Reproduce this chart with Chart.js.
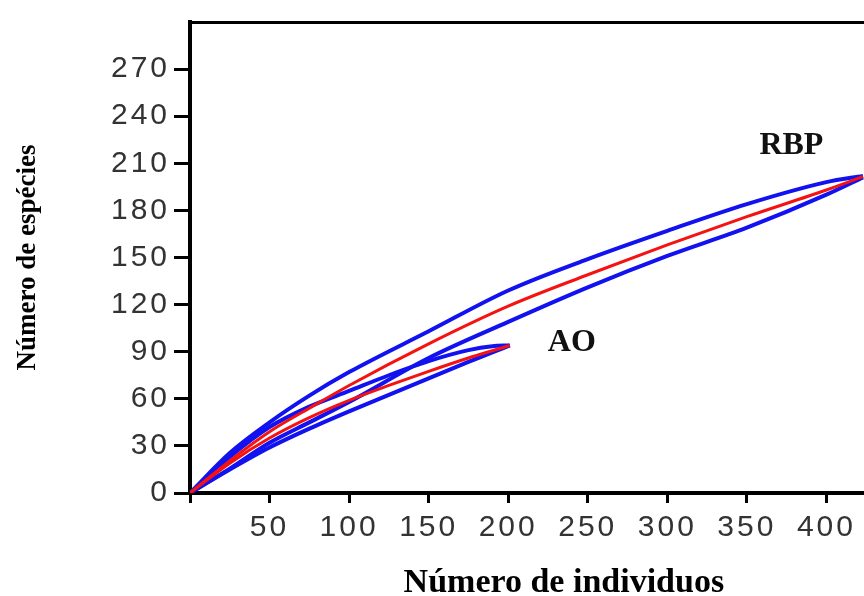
<!DOCTYPE html>
<html>
<head>
<meta charset="utf-8">
<script src="https://cdn.jsdelivr.net/npm/chart.js@4.4.1/dist/chart.umd.min.js"></script>
<style>
  html, body { margin: 0; padding: 0; overflow: hidden; background: #fff; }
  #wrap { width: 938px; height: 596px; }
</style>
</head>
<body>
<div id="wrap"><canvas id="rarefaction" width="938" height="596"></canvas></div>
<script>
// rarefaction curves: individuals (x) vs species (y), mean + upper/lower bound
const rbpInd   = [0, 25, 50, 75, 100, 150, 200, 250, 300, 350, 400, 423];
const rbpMean  = [0, 20.5, 39, 54, 68.5, 95, 119, 139, 158, 176, 193, 201.5];
const rbpUpper = [0, 25.5, 45, 62, 77, 103, 129, 149, 167, 184, 198, 202];
const rbpLower = [0, 15.5, 32, 45, 58, 86, 109, 131, 151, 169, 190, 201];

const aoInd   = [0, 25, 50, 75, 100, 125, 150, 175, 190, 201];
const aoMean  = [0, 19, 35, 48, 59, 68.5, 77.5, 86, 90.6, 94];
const aoUpper = [0, 23, 42, 55, 65, 75, 84, 91, 93.5, 94];
const aoLower = [0, 15, 29, 41, 52, 62.5, 73, 83.5, 89.5, 94];

// curve names, placed in data units
const curveLabels = ["RBP", "AO"];
const curveLabelInd = [378, 240];
const curveLabelSpp = [221, 96];

const BLUE = "rgb(18,18,240)";
const RED = "rgb(245,18,18)";

const pts = (xs, ys) => xs.map((x, i) => ({ x: x, y: ys[i] }));

// tick labels in the original are spaced out a bit
const baseDrawLabels = Chart.Scale.prototype.drawLabels;
Chart.Scale.prototype.drawLabels = function (area) {
  this.ctx.save();
  this.ctx.letterSpacing = "3px";
  baseDrawLabels.call(this, area);
  this.ctx.restore();
};

const curveNames = {
  id: "curveNames",
  afterDatasetsDraw(chart) {
    const { ctx, scales: { x, y } } = chart;
    ctx.save();
    ctx.font = 'bold 32px "Liberation Serif", "Times New Roman", serif';
    ctx.fillStyle = "#111";
    ctx.textAlign = "center";
    ctx.textBaseline = "middle";
    curveLabels.forEach((t, i) => {
      ctx.fillText(t, x.getPixelForValue(curveLabelInd[i]), y.getPixelForValue(curveLabelSpp[i]));
    });
    ctx.restore();
  }
};

const line = (data, color, width) => ({
  data: data, borderColor: color, borderWidth: width,
  pointRadius: 0, fill: false, cubicInterpolationMode: "monotone"
});

const tickFont = { family: '"Liberation Sans", Arial, sans-serif', size: 30 };
const titleFont = (size) => ({ family: '"Liberation Serif", "Times New Roman", serif', size: size, weight: "bold", lineHeight: 1 });

new Chart(document.getElementById("rarefaction"), {
  type: "line",
  data: {
    datasets: [
      line(pts(rbpInd, rbpMean), RED, 3),
      line(pts(aoInd, aoMean), RED, 3),
      line(pts(rbpInd, rbpUpper), BLUE, 4),
      line(pts(rbpInd, rbpLower), BLUE, 4),
      line(pts(aoInd, aoUpper), BLUE, 4),
      line(pts(aoInd, aoLower), BLUE, 4)
    ]
  },
  options: {
    responsive: false,
    animation: false,
    layout: { padding: 0 },
    plugins: { legend: { display: false }, tooltip: { enabled: false } },
    scales: {
      x: {
        type: "linear", min: 0, max: 470,
        afterFit: s => { s.height = 103; },
        border: { color: "#000", width: 4 },
        grid: { drawOnChartArea: false, tickLength: 10, tickWidth: 3, tickColor: "#000" },
        ticks: {
          stepSize: 50, includeBounds: false, padding: 7, color: "#333", font: tickFont,
          maxRotation: 0, autoSkip: false,
          callback: v => v === 0 ? "" : v
        },
        title: { display: true, text: "Número de individuos", color: "#000", font: titleFont(34), padding: { top: 0, bottom: -4 } }
      },
      y: {
        min: 0, max: 300,
        afterFit: s => { s.width = 190; },
        border: { color: "#000", width: 4 },
        grid: {
          drawOnChartArea: false, tickLength: 16, tickWidth: 3,
          tickColor: c => (c.tick && c.tick.value === 300) ? "rgba(0,0,0,0)" : "#000"
        },
        ticks: {
          stepSize: 30, padding: 4, color: "#333", font: tickFont,
          callback: v => v === 300 ? "" : v
        },
        title: { display: true, text: "Número de espécies", color: "#000", font: titleFont(27), padding: { top: 15, bottom: 0 } }
      },
      x2: {
        type: "linear", position: "top",
        afterFit: s => { s.height = 15; },
        ticks: { display: false },
        grid: { display: false, drawTicks: false },
        border: { color: "#000", width: 3 }
      }
    }
  },
  plugins: [curveNames]
});
</script>
</body>
</html>
